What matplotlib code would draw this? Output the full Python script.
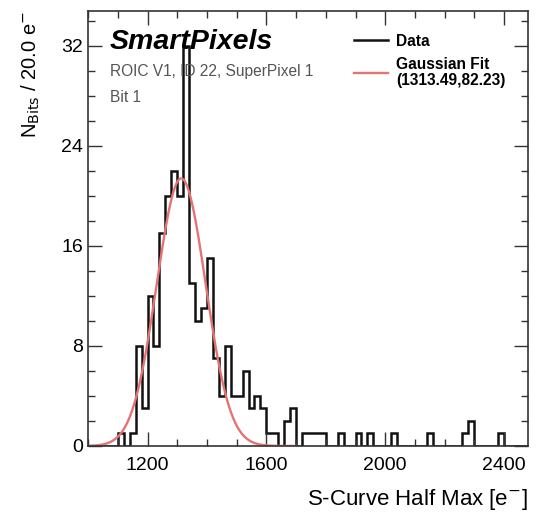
import numpy as np
import matplotlib
matplotlib.use("Agg")
import matplotlib.pyplot as plt
from matplotlib.ticker import MultipleLocator

plt.rcParams['font.family'] = ['Liberation Sans', 'DejaVu Sans']

# histogram: 20 e- bins starting at 1000
bin_start = 1000
bin_width = 20
counts = [0, 0, 0, 0, 0,            # 1000-1100
          1, 0, 1, 8, 3,            # 1100-1200
          12, 8, 17, 20, 22,        # 1200-1300
          20, 32, 13, 10, 11,       # 1300-1400
          15, 7, 4, 8, 4,           # 1400-1500
          4, 6, 3, 4, 3,            # 1500-1600
          1, 1, 0, 2, 3,            # 1600-1700
          0, 1, 1, 1, 1,            # 1700-1800
          0, 0, 1, 0, 0,            # 1800-1900
          1, 0, 1, 0, 0,            # 1900-2000
          0, 1, 0, 0, 0,            # 2000-2100
          0, 0, 1, 0, 0,            # 2100-2200
          0, 0, 0, 1, 2,            # 2200-2300
          0, 0, 0, 0, 1,            # 2300-2400
          0, 0, 0, 0]               # 2400-2480

fit_mean = 1313.49
fit_sigma = 82.23
fit_amp = 21.4

edges = bin_start + bin_width * np.arange(len(counts) + 1)

fig = plt.figure(figsize=(5.37, 5.18), dpi=100)
ax = fig.add_axes([0.164, 0.139, 0.819, 0.840])

ax.stairs(counts, edges, color='#111111', lw=1.8, label='Data')

xf = np.linspace(1000, 1700, 600)
yf = fit_amp * np.exp(-0.5 * ((xf - fit_mean) / fit_sigma) ** 2)
ax.plot(xf, yf, color='#e57373', lw=1.7,
        label='Gaussian Fit\n(%.2f,%.2f)' % (fit_mean, fit_sigma))

ax.set_xlim(edges[0], edges[-1])
ax.set_ylim(0, 34.8)
ax.xaxis.set_major_locator(MultipleLocator(400))
ax.xaxis.set_minor_locator(MultipleLocator(100))
ax.yaxis.set_major_locator(MultipleLocator(8))
ax.yaxis.set_minor_locator(MultipleLocator(2))
ax.tick_params(which='both', direction='in', top=True, right=True,
               labelsize=14, color='#333333')
ax.tick_params(axis='x', pad=8)
ax.tick_params(which='major', length=10, width=1)
ax.tick_params(which='minor', length=5, width=1)
for s in ax.spines.values():
    s.set_color('#333333')
    s.set_linewidth(1.2)

ax.set_xlabel(r'S-Curve Half Max [e$^{-}$]', fontsize=16, loc='right',
              labelpad=9)
ax.set_ylabel(r'N$_{\mathrm{Bits}}$ / 20.0 e$^{-}$', fontsize=14.5, loc='top',
              labelpad=14)

ax.text(0.05, 0.929, 'SmartPixels', transform=ax.transAxes, fontsize=20.5,
        fontweight='bold', style='italic', va='center')
ax.text(0.05, 0.860, 'ROIC V1, ID 22, SuperPixel 1', transform=ax.transAxes,
        fontsize=11.2, color='#555555', va='center')
ax.text(0.05, 0.802, 'Bit 1', transform=ax.transAxes, fontsize=11.2,
        color='#555555', va='center')

leg = ax.legend(loc='upper left', bbox_to_anchor=(0.605, 0.948), frameon=False,
                prop={'weight': 'bold', 'size': 11.2}, handlelength=2.2,
                handletextpad=0.5, labelspacing=0.55, borderpad=0,
                borderaxespad=0)
for t in leg.get_texts():
    t.set_linespacing(1.08)

fig.savefig('out.png', dpi=100)
